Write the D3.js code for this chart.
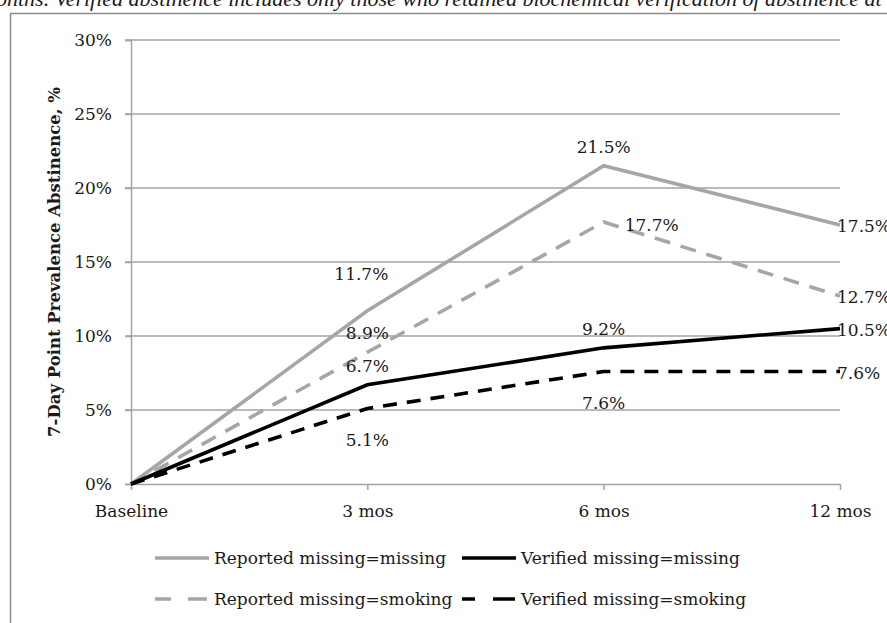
<!DOCTYPE html>
<html><head><meta charset="utf-8">
<script src="https://cdn.jsdelivr.net/npm/d3@7/dist/d3.min.js"></script>
<style>
html,body{margin:0;padding:0;background:#fff;overflow:hidden}
svg{display:block}
text{font-family:"DejaVu Serif","Liberation Serif",serif;fill:#1a1a1a}
</style></head>
<body>
<script>
const categories = ["Baseline", "3 mos", "6 mos", "12 mos"];
const reportedMissing = [0, 11.7, 21.5, 17.5];
const reportedSmoking = [0, 8.9, 17.7, 12.7];
const verifiedMissing = [0, 6.7, 9.2, 10.5];
const verifiedSmoking = [0, 5.1, 7.6, 7.6];
const yTicks = [0, 5, 10, 15, 20, 25, 30];
const seriesNames = ["Reported missing=missing", "Verified missing=missing", "Reported missing=smoking", "Verified missing=smoking"];
const yTitle = "7-Day Point Prevalence Abstinence, %";
const caption = "onths. Verified abstinence includes only those who retained biochemical verification of abstinence at";
// label placement codes per point (skip baseline)
const labelPlace = {
  rm: [null, "T2", "T", "R"],
  rs: [null, "T", "R2", "R"],
  vm: [null, "T", "T", "R"],
  vs: [null, "B", "B", "R"]
};

const W = 887, H = 623;
const svg = d3.select("body").append("svg").attr("width", W).attr("height", H);

// caption (clipped at top, as in the source page)
svg.append("text").attr("x", -4).attr("y", 6)
  .style("font-family", "'Liberation Serif', serif").style("font-style", "italic")
  .style("font-size", "22px").text(caption);

// frame
svg.append("rect").attr("x", 10.5).attr("y", 13.5).attr("width", 1000).attr("height", 800)
  .attr("fill", "none").attr("stroke", "#8c8c8c").attr("stroke-width", 1.5);

const x = d3.scalePoint().domain(categories).range([131, 840]);
const y = d3.scaleLinear().domain([0, 30]).range([484, 40]);

const gridColor = "#a3a3a3";
// gridlines
svg.append("g").selectAll("line").data(yTicks.filter(d => d > 0)).join("line")
  .attr("x1", 125).attr("x2", 840)
  .attr("y1", d => y(d)).attr("y2", d => y(d))
  .attr("stroke", gridColor).attr("stroke-width", 1.5);

// y axis
const yAxis = svg.append("g").attr("transform", "translate(131,0)")
  .call(d3.axisLeft(y).tickValues(yTicks).tickSize(6).tickPadding(13).tickFormat(d => d + "%"));
yAxis.select(".domain").attr("stroke", gridColor).attr("stroke-width", 1.5);
yAxis.selectAll(".tick line").attr("stroke", gridColor).attr("stroke-width", 1.5);
yAxis.selectAll(".tick text").style("font-size", "17px").style("font-family", "DejaVu Serif").attr("fill", "#1a1a1a").attr("dy", "0.35em");

// x axis
const xAxis = svg.append("g").attr("transform", "translate(0,484)")
  .call(d3.axisBottom(x).tickSize(6).tickPadding(15).tickSizeOuter(0));
xAxis.select(".domain").attr("stroke", gridColor).attr("stroke-width", 1.5);
xAxis.selectAll(".tick line").attr("stroke", gridColor).attr("stroke-width", 1.5);
xAxis.selectAll(".tick text").style("font-size", "17px").style("font-family", "DejaVu Serif").attr("fill", "#1a1a1a");

// y title
svg.append("text")
  .attr("transform", `translate(60,${(y(0) + y(30)) / 2}) rotate(-90)`)
  .attr("text-anchor", "middle")
  .style("font-weight", "bold").style("font-size", "16.5px")
  .text(yTitle);

const gray = "#a6a6a6", black = "#000";
const series = [
  {key: "rm", name: seriesNames[0], values: reportedMissing, color: gray, dash: null},
  {key: "rs", name: seriesNames[2], values: reportedSmoking, color: gray, dash: "16,11"},
  {key: "vm", name: seriesNames[1], values: verifiedMissing, color: black, dash: null},
  {key: "vs", name: seriesNames[3], values: verifiedSmoking, color: black, dash: "14,10"}
];

const line = d3.line().x((d, i) => x(categories[i])).y(d => y(d));
svg.append("g").selectAll("path").data(series).join("path")
  .attr("d", s => line(s.values))
  .attr("fill", "none")
  .attr("stroke", s => s.color)
  .attr("stroke-width", 3.6)
  .attr("stroke-dasharray", s => s.dash);

// labels
const lg = svg.append("g").style("font-size", "17px");
series.forEach(s => {
  s.values.forEach((v, i) => {
    const p = labelPlace[s.key][i];
    if (!p) return;
    const px = x(categories[i]), py = y(v);
    let tx = px, ty = py, anchor = "middle";
    if (p === "T") { ty = py - 13; }
    else if (p === "T2") { ty = py - 31; tx = px - 6; }
    else if (p === "B") { ty = py + 37; }
    else if (p === "R") { tx = px - 3; ty = py + 7; anchor = "start"; }
    else if (p === "R2") { tx = px + 21; ty = py + 9; anchor = "start"; }
    lg.append("text").attr("x", tx).attr("y", ty).attr("text-anchor", anchor)
      .text(d3.format(".1f")(v) + "%");
  });
});

// legend
const legendItems = [
  {s: series[0], lx: 155, ly: 558, dash: null},
  {s: series[2], lx: 462, ly: 558, dash: null},
  {s: series[1], lx: 155, ly: 599, dash: "16,17,19"},
  {s: series[3], lx: 462, ly: 599, dash: "13,18,22"}
];
const leg = svg.append("g").style("font-size", "17px");
legendItems.forEach(it => {
  leg.append("line").attr("x1", it.lx).attr("x2", it.lx + 54).attr("y1", it.ly).attr("y2", it.ly)
    .attr("stroke", it.s.color).attr("stroke-width", 3.6).attr("stroke-dasharray", it.dash);
  leg.append("text").attr("x", it.lx + 59).attr("y", it.ly + 6).text(it.s.name);
});
</script>
</body></html>
